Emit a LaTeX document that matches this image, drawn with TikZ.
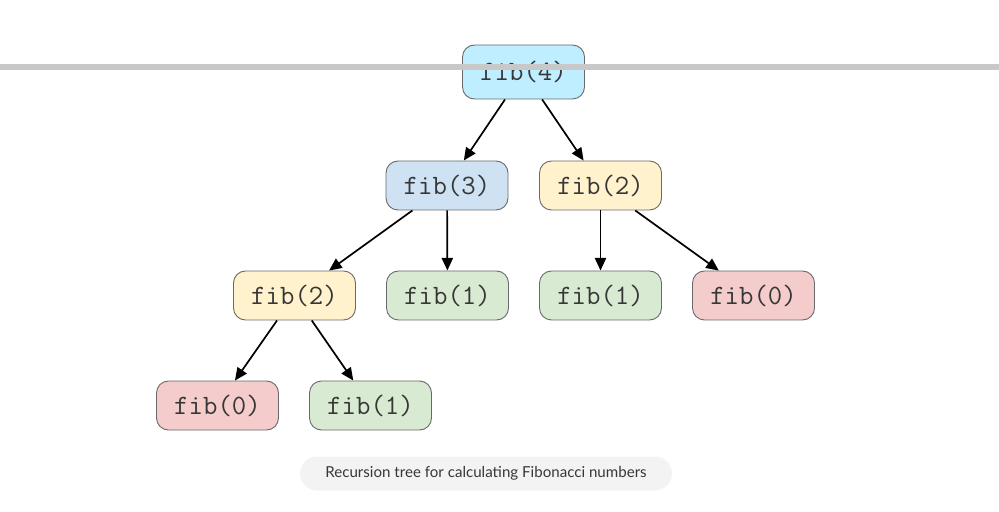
\documentclass[tikz,border=0pt]{standalone}
\usepackage{fontspec}
\newfontfamily\capfont{Lato}
\usetikzlibrary{arrows.meta,positioning}
\definecolor{fibcyan}{RGB}{190,238,255}
\definecolor{fibblue}{RGB}{207,226,243}
\definecolor{fibyellow}{RGB}{255,242,204}
\definecolor{fibgreen}{RGB}{217,234,211}
\definecolor{fibred}{RGB}{244,204,204}
\definecolor{fibline}{RGB}{105,105,105}
\definecolor{fibtext}{RGB}{55,55,55}
\definecolor{pillgray}{RGB}{243,243,243}
\definecolor{bargray}{RGB}{200,200,200}

\begin{document}
\begin{tikzpicture}[x=0.5pt, y=-0.5pt, ->, >={Triangle[length=6.3pt,width=5.6pt]},
    call/.style={draw=fibline, line width=0.45pt, rounded corners=6pt,
      minimum width=61pt, minimum height=24.5pt, inner sep=0pt,
      font=\ttfamily\fontsize{14}{16}\selectfont, text=fibtext},
    link/.style={line width=0.85pt, black}]
    \useasboundingbox (0,0) rectangle (999,512);

    \node[call, fill=fibcyan, minimum height=27pt] (f4) at (523.5, 72)  {fib(4)};
    \node[call, fill=fibblue]   (f3)    at (447, 185.5)   {fib(3)};
    \node[call, fill=fibyellow] (f2)    at (600.5, 185.5) {fib(2)};
    \node[call, fill=fibyellow] (f2_l)  at (294.5, 295.5) {fib(2)};
    \node[call, fill=fibgreen]  (f1_l)  at (447.5, 295.5) {fib(1)};
    \node[call, fill=fibgreen]  (f1_r)  at (600.5, 295.5) {fib(1)};
    \node[call, fill=fibred]    (f0_r)  at (753.5, 295.5) {fib(0)};
    \node[call, fill=fibred]    (f0_ll) at (217.5, 405.5) {fib(0)};
    \node[call, fill=fibgreen]  (f1_ll) at (370.5, 405.5) {fib(1)};

    % calls
    \path
    (f4) edge[link] (f3)
    (f4) edge[link] (f2)
    (f3) edge[link] (f2_l)
    (f3) edge[link] (f1_l)
    (f2) edge[link] (f1_r)
    (f2) edge[link] (f0_r)
    (f2_l) edge[link] (f0_ll)
    (f2_l) edge[link] (f1_ll);

    % bar across the top
    \fill[bargray] (0,64.5) rectangle (999,70.5);

    % caption
    \node[fill=pillgray, rounded corners=8.5pt, minimum width=186pt, minimum height=17pt,
      inner sep=0pt, font=\capfont\fontsize{7.55}{9}\selectfont, text=fibtext]
      (caption) at (486, 473.5) {Recursion tree for calculating Fibonacci numbers};
\end{tikzpicture}
\end{document}
